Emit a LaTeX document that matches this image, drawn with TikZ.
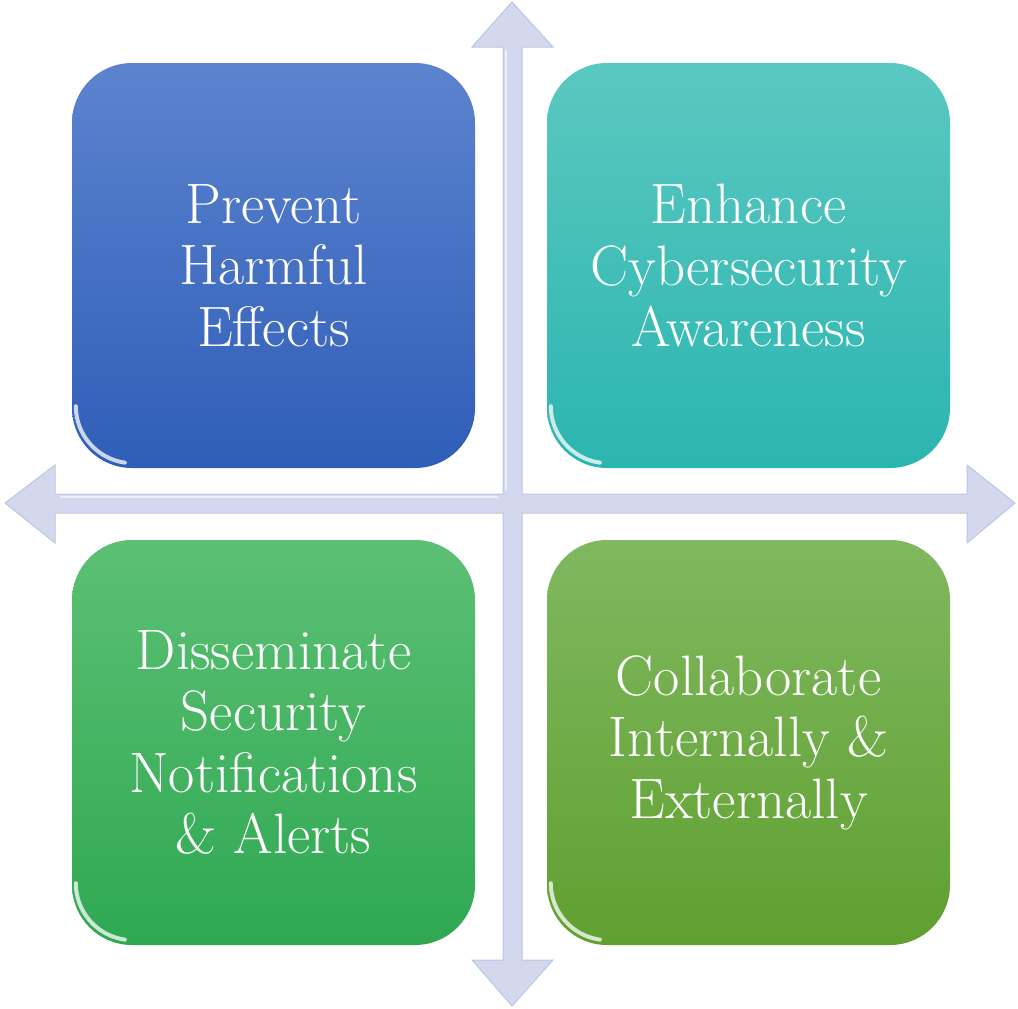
\documentclass[tikz,border=0pt]{standalone}
\usetikzlibrary{shapes.geometric}
\begin{document}
\begin{tikzpicture}[x=1pt,y=-1pt,
  quad/.style={rounded corners=60pt, minimum width=403pt, minimum height=405pt, inner sep=0pt,
     text=white, align=center, font=\fontsize{57}{61.5}\selectfont},
  axis/.style={fill=arrowfill, draw=arrowedge, line width=1pt, line join=miter}]
\definecolor{arrowfill}{HTML}{D3D8EE}
\definecolor{arrowedge}{HTML}{BEC5E4}
\useasboundingbox (0,0) rectangle (1018,1009);
% axes
\coordinate (c) at (512,503);
\draw[axis] (503,47) -- (472,47) -- (512,2) -- (553,47) -- (522,47) -- (522,494)
  -- (967,494) -- (967,465) -- (1015,503) -- (967,543) -- (967,513) -- (522,513)
  -- (522,960) -- (553,960) -- (512,1006) -- (472,960) -- (503,960) -- (503,513)
  -- (55,513) -- (55,543) -- (5,503) -- (55,465) -- (55,494) -- (503,494) -- cycle;
\draw[white, opacity=0.6, line width=1.5pt] (506,50) -- (506,490);
\draw[white, opacity=0.6, line width=1.5pt] (60,497) -- (498,497);
% boxes
\node[quad, top color={rgb,255:red,92;green,131;blue,206}, bottom color={rgb,255:red,47;green,94;blue,184}]
  (tl) at (273.5,265.5) {Prevent\\Harmful\\Effects};
\node[quad, top color={rgb,255:red,90;green,200;blue,192}, bottom color={rgb,255:red,44;green,181;blue,176}]
  (tr) at (748.5,265.5) {Enhance\\Cybersecurity\\Awareness};
\node[quad, top color={rgb,255:red,92;green,192;blue,116}, bottom color={rgb,255:red,47;green,168;blue,82}]
  (bl) at (273.5,742.5) {Disseminate\\Security\\Notifications\\\& Alerts};
\node[quad, top color={rgb,255:red,128;green,184;blue,96}, bottom color={rgb,255:red,95;green,160;blue,48}]
  (br) at (748.5,742.5) {Collaborate\\Internally \&\\Externally};
% glossy highlights at lower-left corners
\foreach \n in {tl,tr,bl,br}{
  \draw[white, opacity=0.75, line width=4pt, line cap=round]
    ([xshift=4pt,yshift=62pt]\n.south west) arc[start angle=180, end angle=262, radius=57pt];
}
\end{tikzpicture}
\end{document}
